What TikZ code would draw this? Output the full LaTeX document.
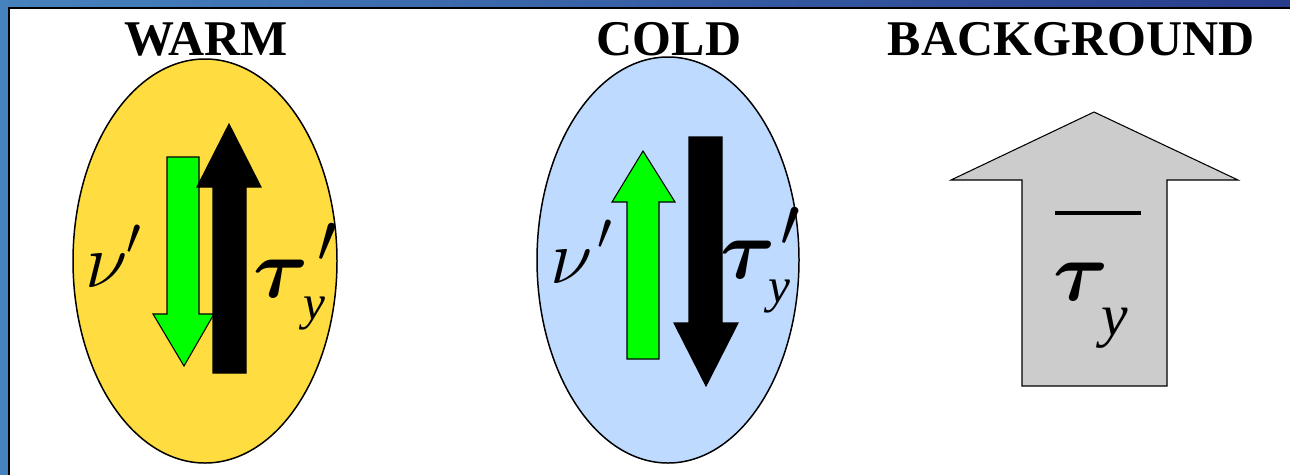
\RequirePackage{fix-cm}
\documentclass[tikz,border=0pt]{standalone}
\usepackage{bm}
\usepackage{fontspec}
\setmainfont{Liberation Serif}
\definecolor{warmY}{RGB}{255,221,64}
\definecolor{coldB}{RGB}{190,218,255}
\definecolor{grnA}{RGB}{0,255,0}
\definecolor{greyA}{RGB}{204,204,204}
\definecolor{bgL}{RGB}{70,130,190}
\definecolor{bgR}{RGB}{40,60,140}
\tikzset{
  title/.style={anchor=base, inner sep=0pt, font=\fontsize{28.45}{34}\selectfont\bfseries},
  nu/.style={anchor=base west, inner sep=0pt, font=\fontsize{44}{50}\selectfont},
  tau/.style={anchor=base west, inner sep=0pt, font=\fontsize{48}{54}\selectfont},
  sub/.style={anchor=base west, inner sep=0pt, font=\fontsize{28}{34}\selectfont\itshape},
  prm/.style={anchor=center, inner sep=0pt, font=\fontsize{30}{36}\selectfont},
  blob/.style={draw=black, line width=0.85pt},
  arr/.style={draw=black, line width=0.6pt},
}
\begin{document}
\begin{tikzpicture}[x=0.02cm, y=-0.02cm]
\useasboundingbox (0,0) rectangle (1290,474);
\clip (0,0) rectangle (1290,474);
% background
\fill[left color=bgL, right color=bgR] (0,0) rectangle (1290,474);
\draw[fill=white, line width=0.85pt] (9,8) rectangle (1300,490);
% titles
\node[title] (tw) at (206,55) {WARM};
\node[title] (tc) at (669,55) {COLD};
\node[title] (tb) at (1071,55) {BACKGROUND};
% ellipses
\draw[blob, fill=warmY] (205,261) ellipse [x radius=132, y radius=202];
\draw[blob, fill=coldB] (668,260) ellipse [x radius=131, y radius=203];
% warm arrows
\draw[arr, fill=grnA] (167,157) -- (199,157) -- (199,314) -- (214,314) -- (184,366) -- (153,314) -- (167,314) -- cycle;
\draw[arr, fill=black] (213,373) -- (246,373) -- (246,187) -- (261,187) -- (229,124) -- (197,187) -- (213,187) -- cycle;
% cold arrows
\draw[arr, fill=grnA] (627,359) -- (659,359) -- (659,202) -- (675,202) -- (643,151) -- (612,202) -- (627,202) -- cycle;
\draw[arr, fill=black] (689,137) -- (722,137) -- (722,323) -- (738,323) -- (706,386) -- (674,323) -- (689,323) -- cycle;
% background arrow
\draw[arr, fill=greyA] (1022,386) -- (1167,386) -- (1167,180) -- (1238,180) -- (1094,112) -- (951,180) -- (1022,180) -- cycle;
\draw[line width=2.2pt] (1055,213) -- (1141,213);
% warm labels
\node[nu] (wnu) at (85,287) {$\nu$};
\node[prm] (wnup) at (134,240) {$\prime$};
\node[tau] (wtau) at (253,297) {$\bm{\tau}$};
\node[prm, font=\fontsize{40}{46}\selectfont] (wtaup) at (327,243) {$\prime$};
\node[sub] (wy) at (303,319) {y};
% cold labels
\node[nu] (cnu) at (550,283) {$\nu$};
\node[prm] (cnup) at (605,235) {$\prime$};
\node[tau] (ctau) at (720,278) {$\bm{\tau}$};
\node[prm, font=\fontsize{40}{46}\selectfont] (ctaup) at (790,227) {$\prime$};
\node[sub] (cy) at (768,302) {y};
% background labels
\node[tau] (btau) at (1053,300) {$\bm{\tau}$};
\node[sub, font=\fontsize{34}{40}\selectfont\itshape] (by) at (1101,335) {y};
\end{tikzpicture}
\end{document}
